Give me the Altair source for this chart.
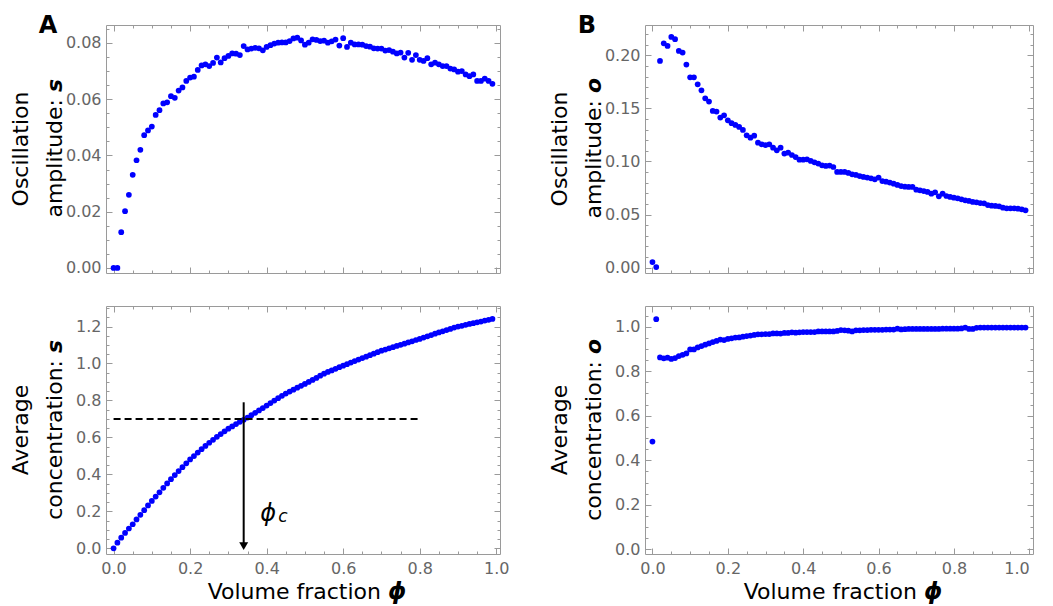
import altair as alt
import pandas as pd

# ---------------- data ----------------
PHI = [0.00, 0.01, 0.02, 0.03, 0.04, 0.05, 0.06, 0.07, 0.08, 0.09,
       0.10, 0.11, 0.12, 0.13, 0.14, 0.15, 0.16, 0.17, 0.18, 0.19,
       0.20, 0.21, 0.22, 0.23, 0.24, 0.25, 0.26, 0.27, 0.28, 0.29,
       0.30, 0.31, 0.32, 0.33, 0.34, 0.35, 0.36, 0.37, 0.38, 0.39,
       0.40, 0.41, 0.42, 0.43, 0.44, 0.45, 0.46, 0.47, 0.48, 0.49,
       0.50, 0.51, 0.52, 0.53, 0.54, 0.55, 0.56, 0.57, 0.58, 0.59,
       0.60, 0.61, 0.62, 0.63, 0.64, 0.65, 0.66, 0.67, 0.68, 0.69,
       0.70, 0.71, 0.72, 0.73, 0.74, 0.75, 0.76, 0.77, 0.78, 0.79,
       0.80, 0.81, 0.82, 0.83, 0.84, 0.85, 0.86, 0.87, 0.88, 0.89,
       0.90, 0.91, 0.92, 0.93, 0.94, 0.95, 0.96, 0.97, 0.98, 0.99]

AMP_S = [0.0000, 0.0000, 0.0127, 0.0202, 0.0260, 0.0331, 0.0383, 0.0420, 0.0472, 0.0489,
         0.0503, 0.0544, 0.0561, 0.0585, 0.0589, 0.0611, 0.0605, 0.0631, 0.0642, 0.0665,
         0.0677, 0.0680, 0.0704, 0.0720, 0.0724, 0.0718, 0.0729, 0.0748, 0.0731, 0.0746,
         0.0754, 0.0763, 0.0762, 0.0757, 0.0789, 0.0777, 0.0780, 0.0783, 0.0781, 0.0774,
         0.0786, 0.0792, 0.0798, 0.0801, 0.0802, 0.0802, 0.0807, 0.0816, 0.0819, 0.0809,
         0.0794, 0.0801, 0.0813, 0.0811, 0.0807, 0.0808, 0.0801, 0.0806, 0.0812, 0.0791,
         0.0817, 0.0786, 0.0801, 0.0795, 0.0795, 0.0794, 0.0789, 0.0787, 0.0781, 0.0780,
         0.0780, 0.0773, 0.0775, 0.0769, 0.0763, 0.0766, 0.0748, 0.0765, 0.0740, 0.0757,
         0.0740, 0.0736, 0.0746, 0.0724, 0.0730, 0.0724, 0.0718, 0.0718, 0.0709, 0.0706,
         0.0698, 0.0700, 0.0688, 0.0682, 0.0688, 0.0665, 0.0665, 0.0673, 0.0665, 0.0655]

AVG_S = [0.000, 0.030, 0.057, 0.083, 0.107, 0.130, 0.156, 0.181, 0.206, 0.232,
         0.256, 0.280, 0.303, 0.327, 0.351, 0.374, 0.396, 0.418, 0.439, 0.460,
         0.481, 0.499, 0.518, 0.536, 0.554, 0.571, 0.587, 0.603, 0.618, 0.633,
         0.647, 0.659, 0.672, 0.684, 0.695, 0.707, 0.720, 0.733, 0.746, 0.759,
         0.772, 0.786, 0.799, 0.812, 0.825, 0.837, 0.848, 0.858, 0.869, 0.879,
         0.889, 0.900, 0.911, 0.922, 0.934, 0.945, 0.954, 0.962, 0.971, 0.980,
         0.988, 0.996, 1.005, 1.013, 1.021, 1.029, 1.037, 1.045, 1.053, 1.061,
         1.069, 1.075, 1.082, 1.088, 1.095, 1.101, 1.107, 1.114, 1.120, 1.127,
         1.133, 1.140, 1.147, 1.154, 1.161, 1.168, 1.174, 1.181, 1.187, 1.194,
         1.200, 1.204, 1.209, 1.214, 1.218, 1.223, 1.227, 1.232, 1.236, 1.241]

AMP_O = [0.0053, 0.0006, 0.1947, 0.2113, 0.2088, 0.2173, 0.2151, 0.2041, 0.2025, 0.1912,
         0.1793, 0.1793, 0.1727, 0.1670, 0.1595, 0.1564, 0.1476, 0.1470, 0.1413, 0.1435,
         0.1388, 0.1360, 0.1344, 0.1325, 0.1297, 0.1246, 0.1224, 0.1243, 0.1177, 0.1162,
         0.1155, 0.1162, 0.1130, 0.1105, 0.1130, 0.1074, 0.1083, 0.1061, 0.1042, 0.1017,
         0.1017, 0.1020, 0.1005, 0.0992, 0.0980, 0.0964, 0.0958, 0.0961, 0.0948, 0.0901,
         0.0901, 0.0901, 0.0892, 0.0879, 0.0873, 0.0863, 0.0854, 0.0848, 0.0841, 0.0832,
         0.0848, 0.0816, 0.0810, 0.0801, 0.0791, 0.0779, 0.0769, 0.0763, 0.0760, 0.0760,
         0.0735, 0.0728, 0.0722, 0.0713, 0.0697, 0.0710, 0.0672, 0.0697, 0.0675, 0.0666,
         0.0659, 0.0653, 0.0644, 0.0634, 0.0628, 0.0619, 0.0615, 0.0609, 0.0606, 0.0590,
         0.0584, 0.0581, 0.0578, 0.0565, 0.0559, 0.0559, 0.0559, 0.0556, 0.0550, 0.0540]

AVG_O = [0.484, 1.034, 0.862, 0.858, 0.861, 0.855, 0.859, 0.868, 0.874, 0.880,
         0.898, 0.898, 0.907, 0.913, 0.919, 0.925, 0.931, 0.936, 0.942, 0.940,
         0.945, 0.948, 0.951, 0.952, 0.955, 0.958, 0.960, 0.963, 0.966, 0.966,
         0.967, 0.967, 0.970, 0.970, 0.969, 0.972, 0.972, 0.975, 0.973, 0.975,
         0.976, 0.976, 0.976, 0.976, 0.979, 0.979, 0.979, 0.979, 0.979, 0.981,
         0.985, 0.984, 0.982, 0.979, 0.984, 0.984, 0.985, 0.985, 0.986, 0.986,
         0.986, 0.986, 0.987, 0.987, 0.987, 0.991, 0.988, 0.989, 0.990, 0.990,
         0.990, 0.990, 0.990, 0.990, 0.990, 0.990, 0.990, 0.991, 0.991, 0.991,
         0.991, 0.991, 0.992, 0.996, 0.990, 0.990, 0.995, 0.996, 0.996, 0.996,
         0.996, 0.996, 0.996, 0.996, 0.996, 0.996, 0.996, 0.996, 0.996, 0.996]

# tick labels
X_MAJOR = [0.0, 0.2, 0.4, 0.6, 0.8, 1.0]
X_MINOR = [0.05, 0.1, 0.15, 0.25, 0.3, 0.35, 0.45, 0.5, 0.55, 0.65, 0.7, 0.75, 0.85, 0.9, 0.95]
Y_MAJOR_AS = [0.0, 0.02, 0.04, 0.06, 0.08]
Y_MINOR_AS = [0.005, 0.01, 0.015, 0.025, 0.03, 0.035, 0.045, 0.05, 0.055, 0.065, 0.07, 0.075, 0.085]
Y_MAJOR_CS = [0.0, 0.2, 0.4, 0.6, 0.8, 1.0, 1.2]
Y_MINOR_CS = [0.05, 0.1, 0.15, 0.25, 0.3, 0.35, 0.45, 0.5, 0.55, 0.65, 0.7, 0.75,
              0.85, 0.9, 0.95, 1.05, 1.1, 1.15, 1.25, 1.3]
Y_MAJOR_AO = [0.0, 0.05, 0.10, 0.15, 0.20]
Y_MINOR_AO = [0.01, 0.02, 0.03, 0.04, 0.06, 0.07, 0.08, 0.09, 0.11, 0.12, 0.13, 0.14,
              0.16, 0.17, 0.18, 0.19, 0.21, 0.22]
Y_MAJOR_CO = [0.0, 0.2, 0.4, 0.6, 0.8, 1.0]
Y_MINOR_CO = [0.05, 0.1, 0.15, 0.25, 0.3, 0.35, 0.45, 0.5, 0.55, 0.65, 0.7, 0.75, 0.85, 0.9, 0.95, 1.05]

# annotation values (panel A bottom)
DASH_X = [0.0]
DASH_X2 = [0.8]
DASH_Y = [0.7]
PHI_C = [0.34]
ARROW_TOP = [0.79]
ARROW_BOTTOM = [0.02]
ARROW_HEAD = [0.012]

# ---------------- style ----------------
BLUE = "#0000ff"
FRAME = "#9a9a9a"
FONT = "DejaVu Sans"
XDOM = [-0.0198, 1.0098]
H = 248


def txt(t, x, y, size=22, angle=0, align="center", weight="normal", style="normal",
        color="black"):
    return alt.Chart(alt.Data(values=[{"t": t}])).mark_text(
        text=t, fontSize=size, angle=angle, align=align, baseline="alphabetic",
        fontWeight=weight, fontStyle=style, font=FONT, color=color
    ).encode(x=alt.value(x), y=alt.value(y))


def y_title(line1, line2, var, junction):
    # two-line rotated title, the variable letter in bold italic
    return [
        txt(line1, -78, H / 2, angle=270, align="center"),
        txt(line2, -44, junction + 7, angle=270, align="right"),
        txt(var, -44, junction, angle=270, align="left", weight="bold", style="italic"),
    ]


def x_title(width):
    anchor = width / 2 + 85
    return [
        txt("Volume fraction", anchor - 7, H + 45, align="right"),
        txt("ϕ", anchor, H + 45, size=23, align="left", weight="bold", style="italic"),
    ]


def panel(values, ydom, ymaj, ymin, yfmt, ytitle, letter, show_x, width, extra=None,
          last_right=False):
    df = pd.DataFrame({"phi": PHI, "val": values})
    xs = alt.Scale(domain=XDOM, nice=False, zero=False)
    ys = alt.Scale(domain=ydom, nice=False, zero=False)

    if show_x:
        kw = dict(orient="bottom", values=X_MAJOR, format=".1f", ticks=False,
                  domain=False, grid=False, labelPadding=6, labelFlush=False,
                  labelOverlap=False, labelBound=False, title=None)
        if last_right:
            kw["labelAlign"] = {"condition": {"test": "datum.value >= 0.999", "value": "right"},
                                "value": "center"}
        xaxis = alt.Axis(**kw)
    else:
        xaxis = None
    pts = alt.Chart(df).mark_circle(size=33, color=BLUE, opacity=1).encode(
        x=alt.X("phi:Q", scale=xs, axis=xaxis),
        y=alt.Y("val:Q", scale=ys,
                axis=alt.Axis(orient="left", values=ymaj, format=yfmt, ticks=False,
                              domain=False, grid=False, labelPadding=5, title=None)),
    )

    def tick_layer(ox, oy, xv, yv, size):
        return alt.Chart(df).mark_point(opacity=0, size=1).encode(
            x=alt.X("phi:Q", scale=xs,
                    axis=alt.Axis(orient=ox, values=xv, labels=False, domain=False,
                                  grid=False, ticks=True, tickSize=size, offset=-size,
                                  tickColor=FRAME, tickWidth=1, title=None)),
            y=alt.Y("val:Q", scale=ys,
                    axis=alt.Axis(orient=oy, values=yv, labels=False, domain=False,
                                  grid=False, ticks=True, tickSize=size, offset=-size,
                                  tickColor=FRAME, tickWidth=1, title=None)),
        )

    layers = [pts,
              tick_layer("bottom", "left", X_MAJOR, ymaj, 6),
              tick_layer("top", "right", X_MAJOR, ymaj, 6),
              tick_layer("bottom", "left", X_MINOR, ymin, 3),
              tick_layer("top", "right", X_MINOR, ymin, 3)]

    if extra is not None:
        layers += extra(xs, ys)

    layers += y_title(*ytitle)
    if show_x:
        layers += x_title(width)
    if letter:
        layers.append(txt(letter, -58, 8, size=24, weight="bold"))

    return alt.layer(*layers).resolve_axis(x="independent", y="independent").properties(
        width=width, height=H)


def annotations(xs, ys):
    dash_df = pd.DataFrame({"x": DASH_X, "x2": DASH_X2, "y": DASH_Y})
    arrow_df = pd.DataFrame({"x": PHI_C, "y": ARROW_TOP, "y2": ARROW_BOTTOM, "h": ARROW_HEAD})
    dash = alt.Chart(dash_df).mark_rule(color="black", strokeWidth=2, strokeDash=[7, 4]).encode(
        x=alt.X("x:Q", scale=xs, axis=None), x2="x2:Q",
        y=alt.Y("y:Q", scale=ys, axis=None))
    arrow = alt.Chart(arrow_df).mark_rule(color="black", strokeWidth=2).encode(
        x=alt.X("x:Q", scale=xs, axis=None),
        y=alt.Y("y:Q", scale=ys, axis=None), y2="y2:Q")
    head = alt.Chart(arrow_df).mark_point(shape="triangle-down", filled=True, size=80,
                                          color="black", opacity=1).encode(
        x=alt.X("x:Q", scale=xs, axis=None),
        y=alt.Y("h:Q", scale=ys, axis=None))
    lbl_df = pd.DataFrame({"x": [0.383], "y": [0.15], "t": ["ϕ"]})
    sub_df = pd.DataFrame({"x": [0.43], "y": [0.142], "t": ["c"]})
    lbl = alt.Chart(lbl_df).mark_text(fontSize=24, fontStyle="italic", font=FONT,
                                       align="left", baseline="alphabetic", color="black").encode(
        x=alt.X("x:Q", scale=xs, axis=None), y=alt.Y("y:Q", scale=ys, axis=None), text="t:N")
    sub = alt.Chart(sub_df).mark_text(fontSize=17, fontStyle="italic", font=FONT,
                                       align="left", baseline="alphabetic", color="black").encode(
        x=alt.X("x:Q", scale=xs, axis=None), y=alt.Y("y:Q", scale=ys, axis=None), text="t:N")
    return [dash, arrow, head, lbl, sub]


a_top = panel(AMP_S, [-0.0018, 0.0864], Y_MAJOR_AS, Y_MINOR_AS, ".2f",
              ("Oscillation", "amplitude:", "s", 67), "A", False, 394)
b_top = panel(AMP_O, [-0.005, 0.2285], Y_MAJOR_AO, Y_MINOR_AO, ".2f",
              ("Oscillation", "amplitude:", "o", 68), "B", False, 388)
a_bot = panel(AVG_S, [-0.031, 1.311], Y_MAJOR_CS, Y_MINOR_CS, ".1f",
              ("Average", "concentration:", "s", 47), "", True, 394, extra=annotations)
b_bot = panel(AVG_O, [-0.021, 1.093], Y_MAJOR_CO, Y_MINOR_CO, ".1f",
              ("Average", "concentration:", "o", 48), "", True, 388, last_right=True)

chart = alt.concat(a_top, b_top, a_bot, b_bot, columns=2,
                   spacing={"row": 28, "column": 38}).properties(
    padding={"left": 1, "top": 5, "right": 0, "bottom": 0}
).configure(font=FONT).configure_view(
    stroke=FRAME, strokeWidth=1
).configure_axis(
    labelFont=FONT, labelFontSize=16, labelColor="#666666",
    titleFont=FONT, titleFontSize=22, titleFontWeight="normal", titleColor="black"
)

chart.save("out.html", embed_options={"renderer": "svg", "actions": False})
